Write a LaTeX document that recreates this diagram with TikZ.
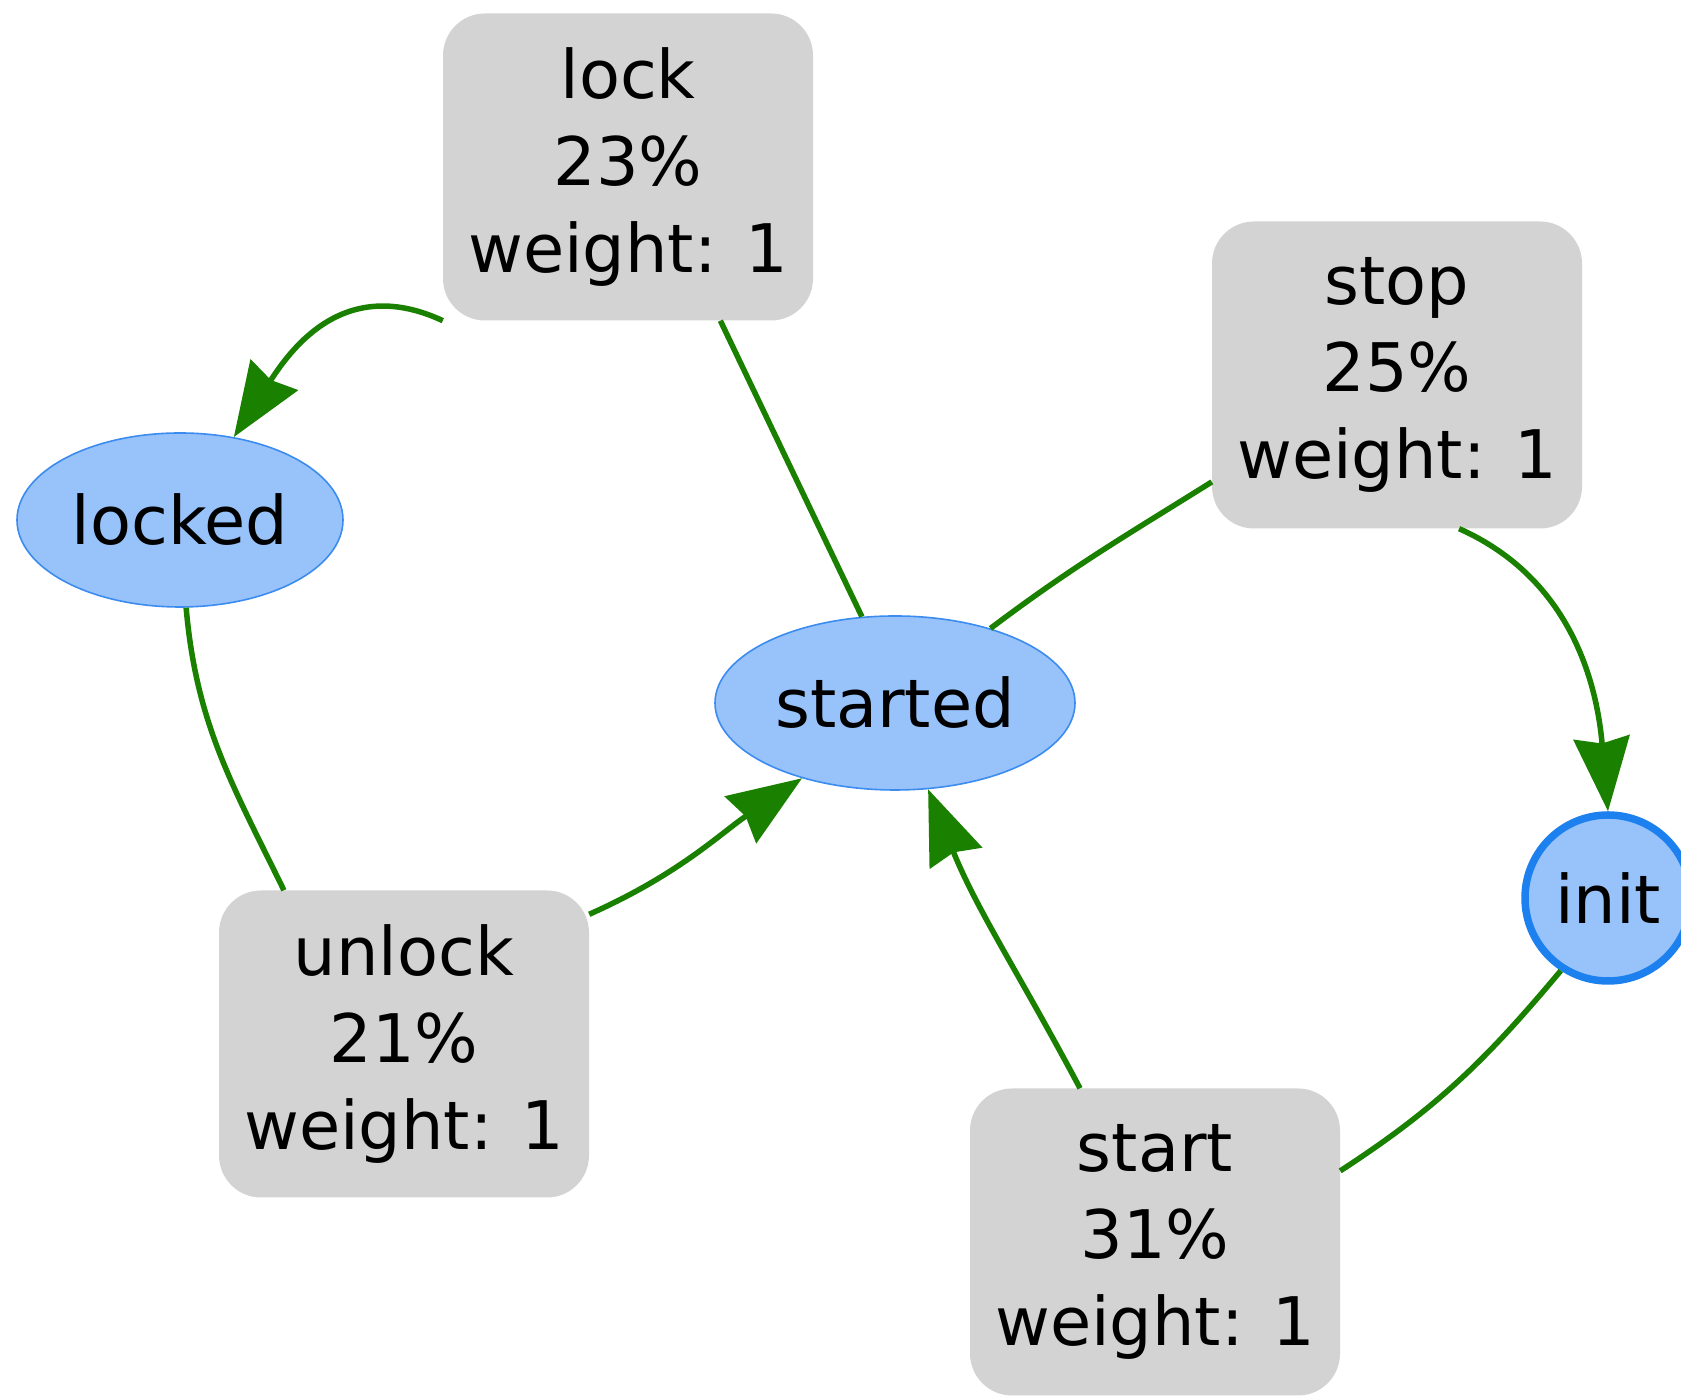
\documentclass[tikz,border=0pt]{standalone}
\usepackage{fontspec}
\setmainfont{DejaVu Sans}
\usetikzlibrary{arrows.meta,shapes.geometric}

\definecolor{boxgray}{RGB}{211,211,211}
\definecolor{statefill}{RGB}{151,194,250}
\definecolor{stateline}{RGB}{60,140,240}
\definecolor{initline}{RGB}{28,128,238}
\definecolor{arcgreen}{RGB}{26,128,0}

\tikzset{
  trans/.style={draw=none, fill=boxgray, rounded corners=42pt,
    minimum width=370pt, minimum height=307pt, inner sep=0pt,
    align=center, font=\fontsize{67}{87}\selectfont},
  state/.style={ellipse, draw=stateline, line width=1.6pt, fill=statefill,
    inner sep=0pt, font=\fontsize{67}{80}\selectfont},
  initstate/.style={circle, draw=initline, line width=7.5pt, fill=statefill,
    minimum size=166pt, inner sep=0pt, font=\fontsize{67}{80}\selectfont},
  arc/.style={draw=arcgreen, line width=5.5pt},
  arcto/.style={arc, -{Stealth[length=74pt,width=56pt,inset=6pt]}, arcgreen},
}

\begin{document}
\begin{tikzpicture}[x=1pt,y=1pt]
  \useasboundingbox (0,0) rectangle (1681,1396);

  % transitions
  \node[trans] (lock)   at (628,1229) {lock\\23\%\\weight: 1};
  \node[trans] (stop)   at (1397,1021) {stop\\25\%\\weight: 1};
  \node[trans] (unlock) at (404,352) {unlock\\21\%\\weight: 1};
  \node[trans] (start)  at (1155,154) {start\\31\%\\weight: 1};

  % places
  \node[state, minimum width=326pt, minimum height=174pt] (locked)  at (180,876) {locked};
  \node[state, minimum width=360pt, minimum height=174pt] (started) at (895,693) {started};
  \node[initstate] (init) at (1608,498) {init};

  % arcs
  \draw[arcto] (lock.south west) to[out=155,in=57,looseness=1.15] (locked.57);
  \draw[arc] (lock.-59) -- (started.111);
  \draw[arc] (stop.210) to[out=212,in=37] (started.38);
  \draw[arcto] (stop.-68) to[out=-24,in=95] (init.north);
  \draw[arc] (locked.-86) to[out=-85,in=116] (unlock.128);
  \draw[arcto] (unlock.35) to[out=24,in=214] (started.219);
  \draw[arcto] (start.116) to[out=118,in=292] (started.-69);
  \draw[arc] (init.237) to[out=230,in=33] (start.21);
\end{tikzpicture}
\end{document}
